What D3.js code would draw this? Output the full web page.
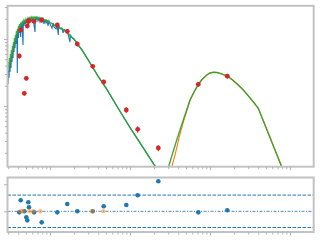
<!DOCTYPE html>
<html><head><meta charset="utf-8">
<script src="https://cdn.jsdelivr.net/npm/d3@7"></script>
<style>html,body{margin:0;padding:0;background:#fff;}svg{display:block}</style>
</head><body>
<script>
// observed spectrum (blue)
const specWave = [0.2985,0.3029,0.3073,0.3118,0.3162,0.3208,0.3255,0.3302,0.3350,0.3398,0.3447,0.3497,0.3548,0.3599,0.3652,0.3705,0.3758,0.3813,0.3868,0.3902,0.3936,0.3981,0.4039,0.4097,0.4157,0.4217,0.4303,0.4340,0.4402,0.4467,0.4597,0.4637,0.4732,0.4801,0.4941,0.5012,0.5158,0.5233,0.5386,0.5464,0.5623,0.5788,0.5957,0.6131,0.6494,0.6551,0.6683,0.6879,0.7079,0.7286,0.7499,0.7718,0.7943,0.8175,0.8414,0.8660,0.8913,0.9173,0.9441,0.9716,1.000,1.059,1.090,1.122,1.189,1.223,1.270,1.281,1.334,1.413,1.454,1.496,1.585,1.679,1.778,1.794,1.884,1.995,2.113,2.239,2.512,2.985,3.981,5.012,7.079,10.00,14.96,19.95,22.39];
const specFlux = [2.13,3.45,2.62,3.95,3.22,4.86,3.69,5.58,4.54,6.85,5.21,7.86,6.40,9.02,7.34,10.35,8.42,11.87,11.09,3.11,11.87,13.62,10.35,14.60,12.29,15.63,10.71,16.18,13.62,17.33,8.14,17.94,15.63,18.57,16.75,19.21,17.33,19.54,17.94,20.23,18.57,20.58,17.94,20.58,12.72,20.94,19.21,20.94,18.57,20.58,17.94,20.23,17.94,19.88,16.75,19.54,17.33,19.21,15.63,18.57,16.75,14.60,17.33,15.11,14.11,16.18,11.47,15.90,14.60,14.60,12.29,13.86,13.17,11.87,9.02,11.47,10.53,10.00,9.02,8.14,6.85,4.94,2.80,1.857,0.934,0.4776,0.2282,0.1339,0.1109];
// total model (green)
const modelWave = [0.2985,0.3029,0.3073,0.3118,0.3162,0.3208,0.3255,0.3302,0.3350,0.3398,0.3447,0.3497,0.3548,0.3599,0.3652,0.3705,0.3758,0.3813,0.3868,0.3924,0.3981,0.4039,0.4097,0.4157,0.4217,0.4340,0.4402,0.4532,0.4597,0.4732,0.4870,0.5012,0.5158,0.5309,0.5464,0.5623,0.5788,0.5957,0.6131,0.6310,0.6494,0.6683,0.6879,0.7079,0.7286,0.7499,0.7718,0.7943,0.8175,0.8414,0.8660,0.8913,0.9173,0.9441,1.000,1.059,1.122,1.189,1.259,1.334,1.413,1.496,1.585,1.679,1.778,1.884,1.995,2.239,2.512,2.985,3.981,5.012,7.079,10.00,14.96,19.95,22.39,
  28.18,38.35,46.37,56.23,63.10,71.41,79.43,90.94,100,109.9,122.3,133.4,149.6,164.5,188.4,225.8,260.8,298.5,344.7,401.6,459.7,562.3,668.3,787.6,865.5];
const modelFlux = [3.69,4.54,3.45,5.21,4.24,5.97,4.86,6.85,5.58,7.86,6.40,9.02,7.60,10.35,8.71,11.47,10.00,13.17,11.47,14.11,12.72,15.63,14.11,16.75,15.11,17.63,16.18,18.57,17.03,19.21,17.94,19.88,18.57,20.58,19.21,20.94,19.54,21.30,19.88,21.30,20.23,21.30,19.88,20.94,19.88,20.58,19.21,20.23,18.88,19.54,18.57,19.21,17.94,18.57,17.63,17.03,16.18,15.63,15.11,14.35,14.11,13.39,12.94,12.08,11.28,10.53,10.00,8.28,6.85,4.94,2.80,1.857,0.934,0.4776,0.2282,0.1339,0.1109,
  0.0933,0.3109,0.618,1.229,1.618,2.094,2.486,2.902,3.109,3.184,3.162,3.077,2.922,2.785,2.486,2.058,1.733,1.435,1.167,0.924,0.618,0.3388,0.2023,0.1242,0.0933];
// dust component (orange)
const dustWave = [31.17,36.52,40.97,46.37,56.23,63.10,71.41,79.43,90.94,100,109.9,122.3,133.4,149.6,164.5,188.4,225.8,260.8,298.5,344.7,401.6,459.7,562.3,668.3,787.6,865.5];
const dustFlux = [0.0933,0.1856,0.3330,0.5771,1.208,1.618,2.094,2.486,2.902,3.109,3.184,3.162,3.077,2.922,2.785,2.486,2.058,1.733,1.435,1.167,0.924,0.618,0.3388,0.2023,0.1242,0.0933];
// photometry (red)
const photWave = [0.4133,0.4303,0.4773,0.5055,0.5203,0.5355,0.5464,0.6310,0.7875,1.234,1.645,2.194,3.419,4.691,8.990,12.48,22.59,71.41,164.5];
const photFlux = [5.58,13.62,1.547,2.591,15.63,18.25,18.76,18.38,19.21,16.18,13.03,8.42,3.913,2.281,0.8716,0.4490,0.2360,2.108,2.785];
const photErr  = [0.45,1.1,0.12,0.2,1.2,1.4,1.5,1.4,1.5,1.2,1.0,0.65,0.3,0.18,0.09,0.05,0.025,0.17,0.22];
// residuals
const residVal = [-0.19,2.04,0,-1.11,-1.67,1.67,0.74,-0.19,-2.04,-0.19,1.35,0,0,0.93,1.17,2.96,5.56,-0.19,0.19];
const limWave = [0.4303,0.4560,0.5512,0.6183,0.7563,3.380,4.637];
const limVal = [0,0,0,0,0,0,0];
const residLevels = [-3,0,3];
const residTicks = [0,5];

const W=320,H=240;
const L=7.5,R=313.7,T1=5.8,B1=166.7,T2=177.5,B2=232;
const svg=d3.select("body").append("svg").attr("width",W).attr("height",H);
const x=d3.scaleLog().domain([0.2942,1978]).range([L,R]);
const y=d3.scaleLog().domain([0.1242,31.30]).range([B1,T1]);
const yr=d3.scaleLinear().domain([-3.83,6.26]).range([B2,T2]);
const zip=(a,b)=>a.slice(0,Math.min(a.length,b.length)).map((v,i)=>[v,b[i]]);

const defs=svg.append("defs");
defs.append("clipPath").attr("id","c1").append("rect").attr("x",L).attr("y",T1).attr("width",R-L).attr("height",B1-T1);
defs.append("clipPath").attr("id","c2").append("rect").attr("x",L).attr("y",T2).attr("width",R-L).attr("height",B2-T2);

const g1=svg.append("g").attr("clip-path","url(#c1)");
const line=d3.line().x(d=>x(d[0])).y(d=>y(d[1]));
g1.append("path").attr("d",line(zip(specWave,specFlux))).attr("fill","none").attr("stroke","#1f77b4").attr("stroke-width",1.1);
g1.append("path").attr("d",line(zip(dustWave,dustFlux))).attr("fill","none").attr("stroke","#ff7f0e").attr("stroke-width",1.1);
g1.append("path").attr("d",line(zip(modelWave,modelFlux))).attr("fill","none").attr("stroke","#2ca02c").attr("stroke-opacity",0.9).attr("stroke-width",1.4);

const pts=photWave.map((w,i)=>({w,f:photFlux[i],e:photErr[i]}));
const pg=g1.selectAll("g.p").data(pts).enter().append("g");
pg.append("line").attr("x1",d=>x(d.w)).attr("x2",d=>x(d.w)).attr("y1",d=>y(d.f+d.e)).attr("y2",d=>y(Math.max(d.f-d.e,0.01))).attr("stroke","#d62728").attr("stroke-width",1);
pg.append("circle").attr("cx",d=>x(d.w)).attr("cy",d=>y(d.f)).attr("r",2.4).attr("fill","#d62728");

// residual panel
const g2=svg.append("g").attr("clip-path","url(#c2)");
residLevels.forEach(v=>{
  g2.append("line").attr("x1",L).attr("x2",R).attr("y1",yr(v)).attr("y2",yr(v))
    .attr("stroke","#1f77b4").attr("stroke-width",1)
    .attr("stroke-dasharray",v===0?"3,1.5,1,1.5":"3.5,1.5").attr("stroke-opacity",v===0?0.8:1);
});
g2.selectAll("circle.r").data(zip(photWave,residVal)).enter().append("circle")
  .attr("cx",d=>x(d[0])).attr("cy",d=>yr(d[1])).attr("r",2.3).attr("fill","#1f77b4");
g2.selectAll("circle.l").data(zip(limWave,limVal)).enter().append("circle")
  .attr("cx",d=>x(d[0])).attr("cy",d=>yr(d[1])).attr("r",2.3).attr("fill","#ff7f0e").attr("fill-opacity",0.5);

// frames
const fc="#c2c2c2";
[[T1,B1],[T2,B2]].forEach(([t,b])=>{
  svg.append("rect").attr("x",L).attr("y",t).attr("width",R-L).attr("height",b-t).attr("fill","none").attr("stroke",fc).attr("stroke-width",2);
});
// ticks
const tc="#b3b3b3";
const isMajor=v=>Math.abs(Math.log10(v)-Math.round(Math.log10(v)))<1e-6;
function xTicks(yb){
  const g=svg.append("g").attr("transform",`translate(0,${yb})`);
  const ax=d3.axisBottom(x).tickFormat("").tickSizeOuter(0);
  g.call(ax);
  g.select(".domain").remove();
  g.selectAll(".tick line").attr("stroke",tc).attr("y2",d=>isMajor(d)?3.5:2.5);
}
xTicks(B1); xTicks(B2);
const gy=svg.append("g").attr("transform",`translate(${L},0)`);
gy.call(d3.axisLeft(y).tickFormat("").tickSizeOuter(0));
gy.select(".domain").remove();
gy.selectAll(".tick line").attr("stroke",tc).attr("x2",d=>isMajor(d)?-3.5:-2.5);
const gy2=svg.append("g").attr("transform",`translate(${L},0)`);
gy2.call(d3.axisLeft(yr).tickValues(residTicks).tickFormat("").tickSizeOuter(0).tickSize(3.5));
gy2.select(".domain").remove();
gy2.selectAll(".tick line").attr("stroke",tc);
</script>
</body></html>
